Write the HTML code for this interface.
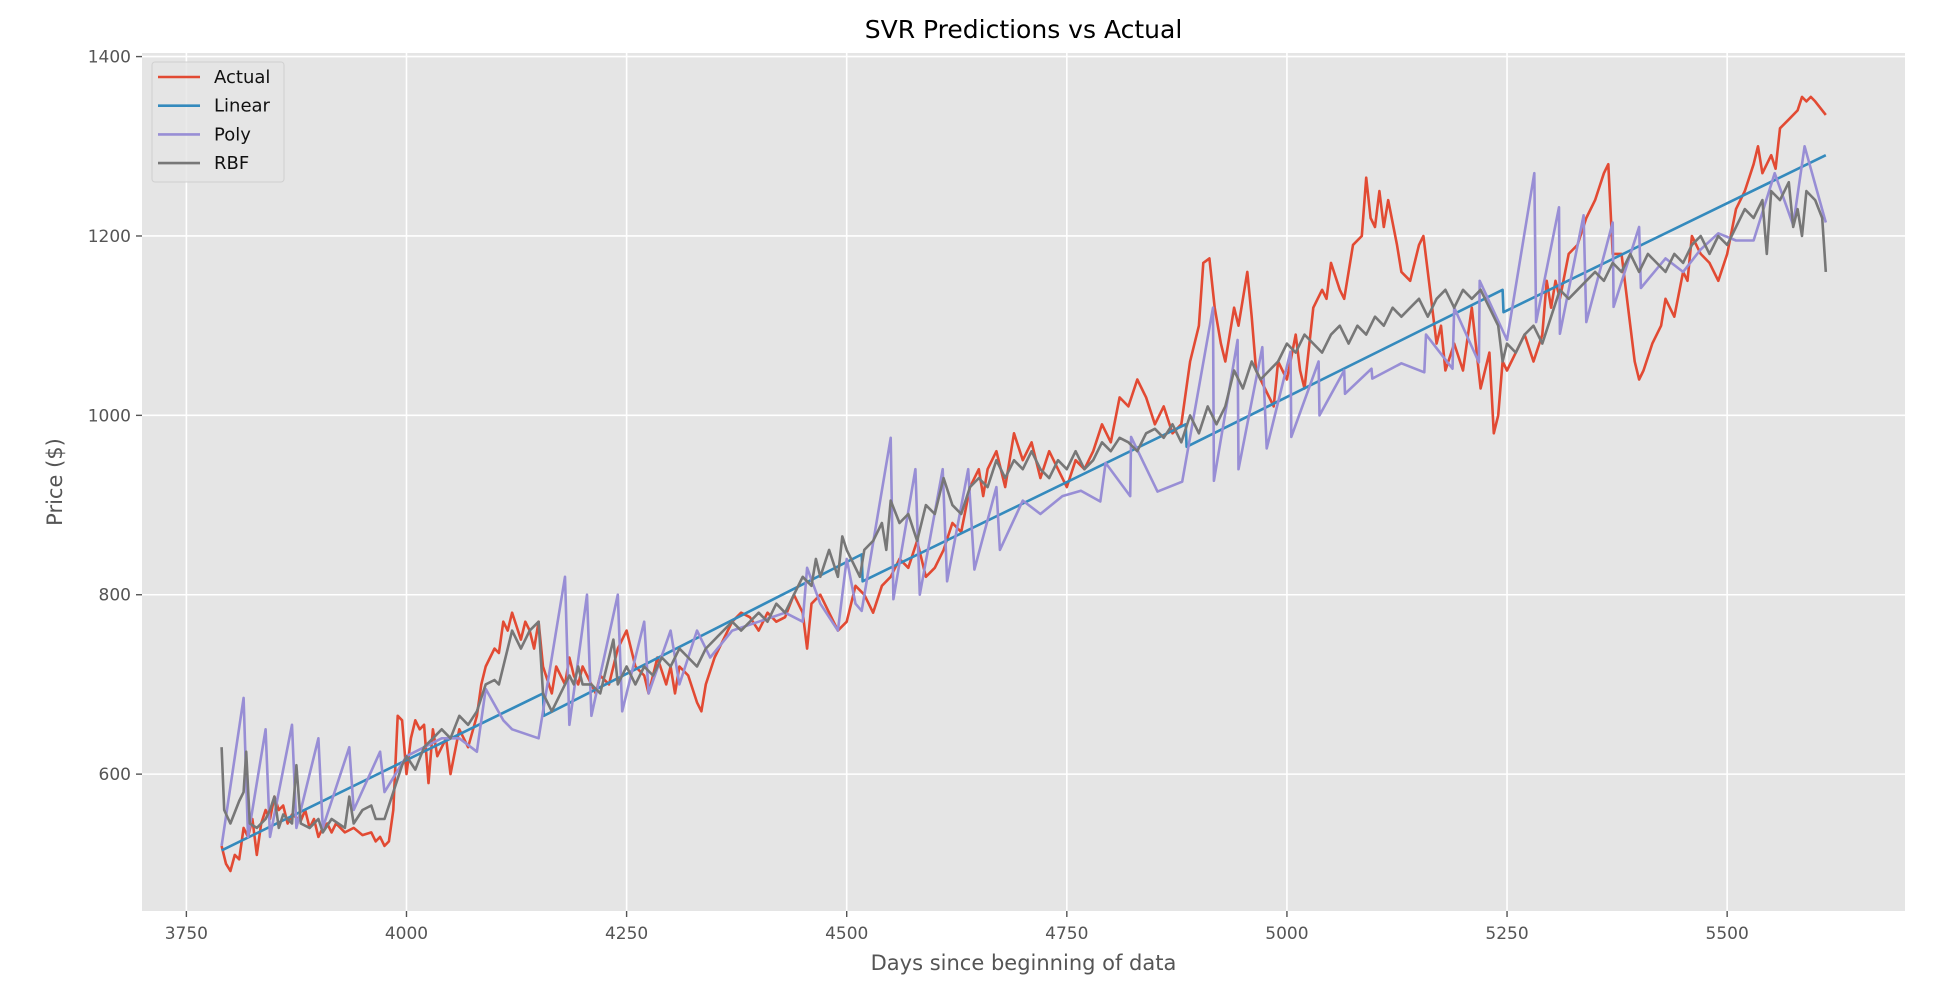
<!DOCTYPE html>
<html><head><meta charset="utf-8"><style>
body{margin:0;background:#fff;}
svg{display:block;font-family:"DejaVu Sans","Liberation Sans",sans-serif;}
</style></head><body>
<svg id="chart" width="1936" height="988"></svg>
<script>
const xTicks=[3750,4000,4250,4500,4750,5000,5250,5500];
const yTicks=[600,800,1000,1200,1400];
const actualDays=[3790,3795,3800,3805,3810,3815,3820,3825,3830,3835,3840,3845,3850,3855,3860,3865,3870,3880,3885,3890,3895,3900,3905,3910,3915,3920,3930,3940,3950,3960,3965,3970,3975,3980,3985,3990,3995,4000,4005,4010,4015,4020,4025,4030,4035,4045,4050,4060,4070,4080,4085,4090,4095,4100,4105,4110,4115,4120,4125,4130,4135,4140,4145,4150,4155,4165,4170,4175,4180,4185,4190,4195,4200,4210,4215,4220,4230,4240,4250,4255,4260,4270,4275,4285,4295,4300,4305,4310,4320,4330,4335,4340,4350,4360,4370,4380,4390,4400,4410,4420,4430,4440,4450,4455,4460,4470,4480,4490,4500,4510,4520,4530,4540,4550,4560,4570,4580,4590,4600,4610,4620,4630,4640,4650,4655,4660,4670,4680,4690,4700,4710,4720,4730,4740,4750,4760,4770,4780,4790,4800,4810,4820,4830,4840,4850,4860,4870,4880,4890,4900,4905,4912,4918,4925,4930,4940,4945,4955,4960,4965,4975,4985,4990,5000,5010,5015,5020,5030,5040,5045,5050,5060,5065,5075,5085,5090,5095,5100,5105,5110,5115,5125,5130,5140,5150,5155,5160,5165,5170,5175,5180,5190,5200,5210,5220,5230,5235,5240,5245,5250,5260,5270,5280,5290,5295,5300,5305,5310,5320,5330,5340,5350,5360,5365,5370,5380,5385,5390,5395,5400,5405,5415,5425,5430,5440,5450,5455,5460,5470,5480,5490,5500,5510,5520,5530,5535,5540,5550,5555,5560,5570,5580,5585,5590,5595,5600,5612];
const actualPrices=[520,500,492,510,505,540,530,550,510,545,560,550,575,560,565,545,555,548,560,540,550,530,540,545,535,545,535,540,532,535,525,530,520,525,560,665,660,600,640,660,650,655,590,650,620,640,600,650,630,665,700,720,730,740,735,770,760,780,765,750,770,760,740,770,720,690,720,710,700,730,710,700,720,700,690,710,700,740,760,740,720,710,690,730,700,720,690,720,710,680,670,700,730,750,770,780,775,760,780,770,775,800,780,740,790,800,780,760,770,810,800,780,810,820,840,830,860,820,830,850,880,870,920,940,910,940,960,920,980,950,970,930,960,940,920,950,940,960,990,970,1020,1010,1040,1020,990,1010,980,990,1060,1100,1170,1175,1120,1080,1060,1120,1100,1160,1110,1050,1030,1010,1060,1040,1090,1050,1030,1120,1140,1130,1170,1140,1130,1190,1200,1265,1220,1210,1250,1210,1240,1190,1160,1150,1190,1200,1160,1120,1080,1100,1050,1080,1050,1120,1030,1070,980,1000,1060,1050,1070,1090,1060,1090,1150,1120,1150,1130,1180,1190,1220,1240,1270,1280,1180,1180,1140,1100,1060,1040,1050,1080,1100,1130,1110,1160,1150,1200,1180,1170,1150,1180,1230,1250,1280,1300,1270,1290,1275,1320,1330,1340,1355,1350,1355,1350,1335];
const linearDays=[3790,4155,4156,4517,4518,4885,4886,5245,5246,5612];
const linearPrices=[515,690,665,845,815,990,965,1140,1115,1290];
const polyDays=[3790,3815,3820,3840,3845,3870,3875,3900,3905,3935,3940,3970,3975,4000,4040,4060,4080,4090,4110,4120,4150,4180,4185,4205,4210,4240,4245,4270,4275,4300,4310,4330,4345,4370,4400,4430,4450,4455,4470,4490,4500,4510,4517,4550,4553,4578,4583,4609,4614,4638,4645,4670,4674,4700,4720,4745,4766,4788,4794,4822,4823,4853,4881,4916,4917,4944,4945,4972,4977,5004,5005,5036,5037,5065,5066,5096,5097,5130,5156,5158,5188,5190,5218,5219,5250,5281,5283,5309,5310,5337,5340,5370,5371,5400,5402,5430,5450,5470,5490,5510,5530,5554,5575,5588,5612];
const polyPrices=[520,685,530,650,530,655,540,640,540,630,560,625,580,620,640,640,625,695,660,650,640,820,655,800,665,800,670,770,690,760,700,760,730,760,770,780,770,830,790,760,840,790,782,975,795,940,800,940,815,940,828,920,850,905,890,910,916,904,947,910,976,915,926,1120,927,1084,940,1076,963,1071,976,1060,1000,1050,1024,1052,1041,1058,1048,1090,1052,1120,1059,1150,1084,1270,1104,1232,1091,1223,1104,1215,1121,1210,1142,1175,1160,1185,1203,1195,1195,1270,1212,1300,1215];
const rbfDays=[3790,3793,3800,3810,3815,3818,3822,3830,3840,3845,3850,3855,3860,3870,3875,3880,3890,3900,3905,3915,3930,3935,3940,3950,3960,3965,3975,3985,3995,4000,4010,4020,4030,4040,4050,4060,4070,4080,4090,4100,4105,4115,4120,4130,4140,4150,4155,4165,4175,4185,4190,4195,4200,4210,4220,4225,4235,4240,4250,4260,4270,4280,4290,4300,4310,4320,4330,4340,4350,4360,4370,4380,4390,4400,4410,4420,4430,4440,4450,4460,4465,4470,4480,4490,4495,4500,4510,4515,4520,4530,4540,4545,4550,4560,4570,4580,4590,4600,4610,4620,4630,4640,4650,4660,4670,4680,4690,4700,4710,4720,4730,4740,4750,4760,4770,4780,4790,4800,4810,4820,4830,4840,4850,4860,4870,4880,4890,4900,4910,4920,4930,4940,4950,4960,4970,4980,4990,5000,5010,5020,5030,5040,5050,5060,5070,5080,5090,5100,5110,5120,5130,5140,5150,5160,5170,5180,5190,5200,5210,5220,5230,5240,5245,5250,5260,5270,5280,5290,5300,5310,5320,5330,5340,5350,5360,5370,5380,5390,5400,5410,5420,5430,5440,5450,5460,5470,5480,5490,5500,5510,5520,5530,5540,5545,5550,5560,5570,5575,5580,5585,5590,5600,5608,5612];
const rbfPrices=[630,560,545,570,580,625,545,540,550,560,575,540,555,545,610,545,540,550,535,550,540,575,545,560,565,550,550,580,610,620,605,630,640,650,640,665,655,670,700,705,700,740,760,740,760,770,690,670,690,710,700,720,700,700,690,710,750,700,720,700,720,710,730,720,740,730,720,740,750,760,770,760,770,780,770,790,780,800,820,810,840,820,850,820,865,850,830,820,850,860,880,850,905,880,890,860,900,890,930,900,890,920,930,920,950,930,950,940,960,940,930,950,940,960,940,950,970,960,975,970,960,980,985,975,990,970,1000,980,1010,990,1010,1050,1030,1060,1040,1050,1060,1080,1070,1090,1080,1070,1090,1100,1080,1100,1090,1110,1100,1120,1110,1120,1130,1110,1130,1140,1120,1140,1130,1140,1120,1100,1060,1080,1070,1090,1100,1080,1110,1140,1130,1140,1150,1160,1150,1170,1160,1180,1160,1180,1170,1160,1180,1170,1190,1200,1180,1200,1190,1210,1230,1220,1240,1180,1250,1240,1260,1210,1230,1200,1250,1240,1220,1160];

const NS='http://www.w3.org/2000/svg';
const svg=document.getElementById('chart');
const L=142,R=1905,T=53,B=911;
const X0=3699.6,X1=5702,Y0=447.4,Y1=1404;
const sx=v=>L+(v-X0)/(X1-X0)*(R-L);
const sy=v=>B-(v-Y0)/(Y1-Y0)*(B-T);
function mk(tag,attrs,parent){const e=document.createElementNS(NS,tag);for(const k in attrs)e.setAttribute(k,attrs[k]);(parent||svg).appendChild(e);return e;}

const bg=mk('rect',{x:L,y:T,width:R-L,height:B-T,fill:'#e5e5e5'});



const grid=mk('g',{});


xTicks.forEach(t=>{
  mk('line',{x1:sx(t),x2:sx(t),y1:T,y2:B,stroke:'#fff','stroke-width':1.6},grid);
  const tk=mk('line',{x1:sx(t),x2:sx(t),y1:B,y2:B+6,stroke:'#555','stroke-width':1.4});
  
  
  const lb=mk('text',{x:sx(t),y:B+28,'text-anchor':'middle','font-size':17,fill:'#555'});
  lb.textContent=t;
  
  
});
yTicks.forEach(t=>{
  mk('line',{x1:L,x2:R,y1:sy(t),y2:sy(t),stroke:'#fff','stroke-width':1.6},grid);
  const tk=mk('line',{x1:L-6,x2:L,y1:sy(t),y2:sy(t),stroke:'#555','stroke-width':1.4});
  
  
  const lb=mk('text',{x:L-11,y:sy(t)+6,'text-anchor':'end','font-size':17,fill:'#555'});
  lb.textContent=t;
  
  
});

function series(days,prices,color,name){
  const d=days.map((v,i)=>(i?'L':'M')+sx(v).toFixed(1)+','+sy(prices[i]).toFixed(1)).join('');
  const p=mk('path',{d:d,fill:'none',stroke:color,'stroke-width':2.6,'stroke-linejoin':'round'});
  
  
}
series(actualDays,actualPrices,'#e24a33','actual-line');
series(linearDays,linearPrices,'#348abd','linear-line');
series(polyDays,polyPrices,'#988ed5','poly-line');
series(rbfDays,rbfPrices,'#777777','rbf-line');

const title=mk('text',{x:(L+R)/2,y:38,'text-anchor':'middle','font-size':25,fill:'#000'});
title.textContent='SVR Predictions vs Actual';


const xl=mk('text',{x:(L+R)/2,y:970,'text-anchor':'middle','font-size':21,fill:'#555'});
xl.textContent='Days since beginning of data';


const yl=mk('text',{x:0,y:0,'text-anchor':'middle','font-size':21,fill:'#555',transform:'translate(62,482) rotate(-90)'});
yl.textContent='Price ($)';



const lg=mk('g',{});


mk('rect',{x:152,y:62,width:132,height:120,rx:3,fill:'#e5e5e5',stroke:'#d0d0d0','stroke-width':1,'fill-opacity':0.8},lg);
const names=['Actual','Linear','Poly','RBF'];
const cols=['#e24a33','#348abd','#988ed5','#777777'];
names.forEach((n,i)=>{
  const y=77+i*28.7;
  const ln=mk('line',{x1:158,x2:200,y1:y,y2:y,stroke:cols[i],'stroke-width':2.6},lg);
  
  
  const t=mk('text',{x:214,y:y+6,'font-size':18,fill:'#111'},lg);
  t.textContent=n;
  
  
});
</script>
</body></html>
